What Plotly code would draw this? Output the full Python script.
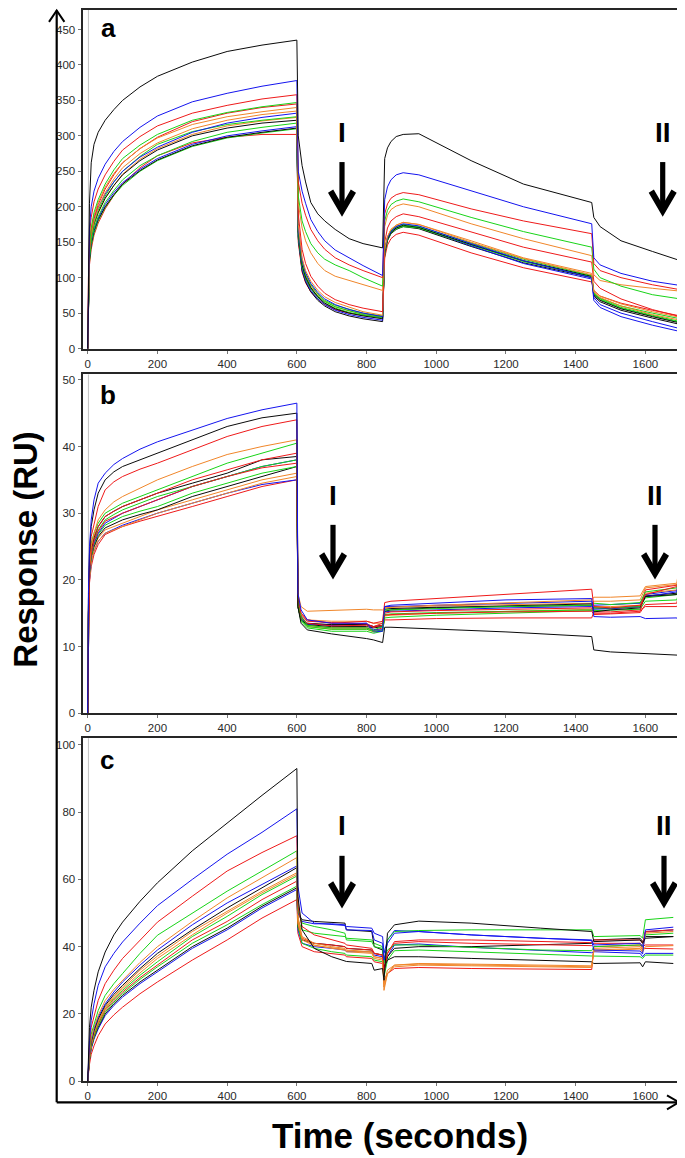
import plotly.graph_objects as go

# reference canvas 685x1158; the page adds an 8px body margin, so the figure is 677x1150
REF_OFF = 8
W, H = 677, 1150

# ---------------- colours ----------------
K = "#0a0a0a"; B = "#1414ee"; R = "#ee1a1a"; G = "#18d418"; O = "#f0862a"

# ---------------- panel a ----------------
ta = [0, 2, 5, 10, 18, 30, 50, 75, 100, 150, 200, 300, 400, 500, 600,
      604, 615, 625, 640, 660, 680, 710, 750, 790, 846,
      852, 860, 870, 885, 905, 950, 1100, 1250, 1446,
      1452, 1470, 1530, 1620, 1700]
a_k1 = [0, 120, 205, 262, 288, 305, 322, 337, 350, 369, 384, 404, 419, 428, 435, 300, 258, 235, 206, 190, 180, 168, 155, 148, 142, 268, 283, 292, 299, 302, 303, 265, 232, 206, 185, 172, 152, 137, 124]
a_b1 = [0, 110, 170, 200, 222, 240, 260, 278, 292, 312, 328, 348, 360, 370, 378, 250, 222, 205, 182, 165, 152, 139, 128, 117, 103, 210, 228, 238, 245, 248, 245, 222, 200, 176, 128, 118, 106, 95, 89]
a_r1 = [0, 105, 160, 185, 207, 225, 245, 264, 280, 299, 314, 332, 343, 352, 358, 235, 205, 188, 168, 152, 140, 128, 118, 110, 100, 190, 204, 212, 217, 220, 217, 197, 180, 162, 120, 110, 100, 90, 83]
a_g1 = [0, 95, 145, 170, 192, 210, 232, 252, 268, 287, 302, 322, 333, 341, 347, 215, 180, 165, 148, 135, 126, 118, 110, 100, 88, 180, 195, 203, 208, 211, 207, 185, 165, 143, 112, 100, 88, 76, 70]
a_o1 = [0, 100, 145, 168, 188, 206, 228, 247, 262, 282, 297, 316, 327, 334, 340, 205, 170, 152, 135, 120, 110, 102, 96, 90, 82, 172, 188, 196, 201, 204, 200, 176, 155, 131, 104, 96, 90, 85, 81]
a_r2 = [0, 100, 140, 165, 185, 203, 225, 245, 262, 282, 298, 320, 332, 340, 345, 190, 140, 120, 102, 88, 78, 69, 62, 57, 52, 150, 170, 180, 186, 190, 186, 165, 143, 122, 95, 85, 70, 55, 45]
a_o2 = [0, 95, 138, 160, 180, 198, 220, 239, 255, 275, 290, 310, 322, 330, 335, 175, 128, 110, 95, 82, 73, 65, 58, 52, 47, 140, 158, 168, 174, 178, 175, 150, 127, 104, 80, 72, 60, 48, 40]
a_b2 = [0, 100, 142, 165, 183, 199, 218, 235, 250, 270, 284, 305, 318, 326, 332, 170, 125, 107, 92, 79, 70, 62, 55, 50, 45, 140, 156, 165, 172, 176, 173, 148, 124, 100, 72, 62, 50, 38, 28]
a_g2 = [0, 88, 130, 155, 177, 195, 215, 235, 250, 271, 288, 306, 316, 322, 327, 168, 122, 105, 90, 77, 68, 61, 55, 50, 46, 138, 156, 166, 172, 175, 172, 149, 126, 103, 78, 70, 58, 47, 38]
a_k2 = [0, 92, 136, 158, 176, 192, 212, 230, 245, 265, 280, 300, 311, 318, 322, 165, 118, 101, 86, 73, 64, 56, 50, 46, 42, 136, 154, 164, 170, 174, 171, 147, 124, 102, 76, 68, 56, 45, 36]
a_g3 = [0, 90, 130, 152, 170, 186, 206, 223, 238, 258, 272, 292, 305, 312, 318, 160, 115, 99, 85, 74, 66, 59, 53, 48, 44, 135, 153, 163, 169, 172, 170, 146, 123, 101, 77, 69, 57, 46, 37]
a_b3 = [0, 85, 128, 150, 168, 184, 203, 220, 234, 253, 268, 288, 300, 307, 313, 158, 112, 96, 82, 70, 62, 54, 48, 44, 40, 138, 156, 166, 172, 175, 171, 145, 120, 98, 68, 58, 45, 33, 24]
a_k3 = [0, 82, 125, 148, 166, 182, 200, 217, 232, 251, 266, 286, 298, 305, 311, 155, 110, 94, 80, 68, 60, 52, 46, 42, 38, 134, 152, 162, 168, 172, 169, 144, 121, 100, 74, 66, 54, 43, 34]
a_g4 = [0, 78, 122, 145, 163, 180, 199, 216, 230, 250, 265, 285, 297, 304, 310, 158, 114, 98, 84, 72, 64, 57, 51, 47, 43, 136, 154, 164, 170, 173, 170, 146, 123, 102, 79, 71, 60, 50, 42]
a_r3 = [0, 75, 118, 140, 160, 177, 197, 216, 232, 255, 272, 290, 298, 302, 302, 150, 108, 93, 80, 70, 62, 55, 50, 47, 44, 128, 146, 155, 161, 164, 160, 135, 114, 94, 82, 74, 64, 54, 46]
a_o3 = [0, 90, 132, 155, 174, 191, 212, 230, 246, 267, 282, 302, 314, 321, 326, 165, 120, 103, 88, 76, 67, 59, 53, 49, 45, 140, 158, 168, 174, 178, 175, 152, 128, 106, 82, 74, 63, 52, 44]

# ---------------- panel b ----------------
tb = [0, 2, 5, 10, 18, 30, 50, 75, 100, 150, 200, 300, 400, 500, 600,
      603, 612, 630, 700, 800, 820, 846, 852, 870, 1000, 1200, 1446, 1452, 1500, 1585, 1600, 1690, 1700]
b_b1 = [0, 18, 25, 29, 32, 34.5, 36, 37.3, 38.2, 39.6, 40.7, 42.5, 44.2, 45.5, 46.5, 18, 15.5, 14, 13.5, 13.5, 12.5, 12.5, 16, 16.2, 16.5, 17, 17.2, 14.5, 14.4, 14.5, 14.2, 14.3, 13.5]
b_k1 = [0, 17, 24, 28, 30.5, 33, 35, 36.2, 37, 38, 39, 41, 43, 44.3, 45, 16, 13.5, 12.5, 11.9, 11.2, 11, 10.6, 12.9, 12.9, 12.6, 12.2, 11.5, 9.5, 9.2, 9, 9, 8.8, 8.7]
b_r1 = [0, 16, 23, 26.5, 28.5, 31, 33.5, 34.7, 35.5, 36.6, 37.5, 39.5, 41.5, 43, 44, 17.5, 15, 14, 13.5, 13.8, 13.5, 13.8, 16.6, 16.8, 17.2, 17.8, 18.6, 16, 15.8, 16.2, 17.8, 19, 21]
b_o1 = [0, 16, 22, 25, 27, 29, 30.5, 31.7, 32.5, 33.8, 35, 37, 38.8, 40, 41, 18, 16, 15.3, 15.4, 15.6, 15.5, 15.5, 15.8, 15.9, 16.2, 16.6, 17, 17.4, 17.4, 17.6, 19, 19.5, 23]
b_g1 = [0, 16, 22.5, 25.5, 27, 28.5, 30, 30.8, 31.5, 32.5, 33.5, 35.5, 37.5, 39, 40.5, 17, 14.5, 13.2, 12.8, 12.8, 12.5, 13, 15.5, 15.5, 15.7, 16, 16.2, 16.5, 16.3, 16.6, 18.2, 18.8, 22]
b_r2 = [0, 15.5, 22, 25, 26.5, 28, 29.5, 30.3, 31, 32, 33, 35, 36.5, 38, 39, 17, 14.8, 13.8, 13.6, 13.4, 13, 13.5, 15, 15.2, 15.4, 15.6, 15.8, 15, 15, 15.3, 18.5, 19.2, 20]
b_k2 = [0, 15.5, 22, 24.5, 26.3, 28, 29.5, 30.3, 31, 32, 33, 34.5, 36, 38, 38.5, 16.5, 14.5, 13.5, 13.3, 13.3, 13, 13.2, 15.3, 15.5, 15.8, 16.1, 16.4, 15.2, 15.5, 15.8, 17.5, 17.8, 19]
b_g2 = [0, 15.5, 22, 24.5, 26, 27.5, 29, 29.8, 30.5, 31.5, 32.5, 34, 35.5, 37, 38, 16.5, 14, 13, 12.6, 12.6, 12.3, 12.5, 14.8, 14.9, 15.1, 15.3, 15.5, 15.8, 15.8, 16, 17.3, 17.8, 20]
b_b2 = [0, 15, 21, 24, 25.5, 27, 28.5, 29.3, 30, 31, 32, 34, 35.5, 37, 38, 16.5, 14.2, 13.4, 13.2, 13.5, 12.2, 12.3, 16, 16, 16.2, 16.5, 16.8, 15.6, 15.7, 16, 17.5, 18.2, 21]
b_g3 = [0, 15, 21, 23.5, 25.3, 26.8, 28.2, 28.9, 29.5, 30.3, 31, 33, 34.5, 36, 37, 16, 13.8, 12.8, 12.3, 12.3, 12, 12.3, 14.3, 14.4, 14.7, 15, 15.3, 15.4, 15.4, 15.6, 16.8, 17, 19]
b_k3 = [0, 15, 21, 23.5, 25, 26.5, 27.8, 28.4, 29, 29.8, 30.5, 32.5, 34, 35.5, 37, 16, 14, 13.3, 13, 13, 12.8, 13, 15.6, 15.7, 15.9, 16, 16.2, 15.8, 15.7, 16, 17.6, 18, 20]
b_o2 = [0, 15, 20.5, 23, 24.8, 26.3, 27.5, 28, 28.5, 29.5, 30.5, 32, 33.5, 35, 36, 16.8, 15, 14, 13.8, 13.8, 13.5, 13.5, 15.8, 15.9, 16.1, 16.3, 16.5, 16.8, 16.8, 17, 18.8, 19.3, 21]
b_o3 = [0, 14.5, 20, 22.5, 24.3, 25.8, 27, 27.5, 28, 29, 30, 31.5, 33, 34.5, 35.5, 16, 14, 13, 12.6, 12.6, 12.2, 12.5, 14.6, 14.7, 15, 15.3, 15.6, 16, 16, 16.2, 18, 18.5, 20]
b_r3 = [0, 14, 19.5, 22, 23.8, 25.3, 26.8, 27.4, 28, 28.8, 29.5, 31, 32.5, 34, 35, 16.5, 14.5, 13.2, 12.8, 12.8, 12.4, 12.8, 14, 14, 14.2, 14.3, 14.3, 15.2, 15.2, 15.5, 16, 16, 17]
b_b3 = [0, 14.5, 20, 22.5, 24.3, 25.8, 27, 27.6, 28.2, 29.1, 30, 31.5, 33, 34.3, 35, 16, 14, 13.4, 13.2, 13.3, 13, 13.1, 15.2, 15.3, 15.5, 15.8, 16, 16.2, 16.3, 16.5, 17.8, 18.4, 22]
b_r4 = [0, 15.5, 21.5, 24, 25.8, 27.3, 28.8, 29.4, 30, 31, 32, 34, 35.5, 36.8, 37.5, 16.5, 14.3, 13.5, 13.1, 13.2, 12.9, 13.2, 14.7, 14.8, 15, 15.2, 15.3, 14.8, 14.9, 15.1, 16.3, 16.5, 19]

# ---------------- panel c ----------------
tc = [0, 2, 5, 10, 18, 30, 50, 75, 100, 150, 200, 300, 400, 500, 600,
      603, 615, 650, 700, 738, 742, 815, 822, 846, 850, 860, 880, 950, 1100, 1300, 1446, 1452, 1585, 1592, 1600, 1680]
c_k1 = [0, 8, 16, 22, 27, 32.5, 38.4, 43.5, 47.3, 53.5, 59, 68.5, 76.8, 85, 93, 55, 45, 39.5, 37, 35.8, 35.6, 35, 33, 33.5, 30, 44, 46.5, 47.6, 47, 45.5, 44.5, 41.5, 42, 41, 42.5, 43]
c_b1 = [0, 6, 12, 18, 23, 28.5, 34, 38, 41.4, 47, 52.2, 60, 67.5, 74, 81, 58, 50, 47, 46.7, 46.3, 45, 44.8, 42, 41, 36, 41, 44, 44.5, 43.5, 42.5, 41.8, 39, 38.7, 37.8, 45, 45.8]
c_r1 = [0, 5, 10, 16, 19.5, 24, 29, 33, 36.5, 42, 47.3, 55, 62.5, 68, 73, 52, 46, 43.5, 42, 41, 40.5, 39.5, 38, 37.5, 33, 38, 41.5, 42, 42, 41.5, 41.2, 42, 42, 41, 44.5, 45]
c_g1 = [0, 4.5, 9, 14, 17, 21, 25.5, 29, 32, 38, 43.4, 50, 56.5, 62.5, 68.5, 51, 47, 46, 45, 44, 42, 41.5, 40, 39.5, 35, 42, 44.5, 44.8, 45, 45, 45, 43, 43.3, 42.5, 48, 48.7]
c_o1 = [0, 4, 8, 12.5, 16, 19.5, 24, 27.3, 30, 35.3, 40, 47.5, 54.5, 60.5, 66.5, 49, 43, 41, 40, 39.5, 39, 38.5, 37, 36.5, 28, 32, 34.5, 34.8, 34.6, 34.3, 34, 39.5, 40, 39, 44, 44.5]
c_b2 = [0, 4, 8, 12, 15.5, 19, 23, 26.5, 29.5, 34.5, 39, 46.5, 53, 58.5, 64, 50, 47.5, 46.8, 46.8, 46.5, 46, 45.5, 44, 43, 38, 42, 44.8, 44.5, 43.5, 42.5, 42, 40.5, 41, 40, 44.5, 45]
c_k2 = [0, 4, 7.5, 11.5, 15, 18.5, 22.5, 25.8, 28.5, 33.5, 38, 45, 51.5, 57.5, 63.5, 50, 48, 47.5, 47.3, 47, 45, 44.5, 40, 39, 34, 36, 37, 37, 36.5, 35.8, 35.5, 35, 35.2, 34, 35.5, 35]
c_o2 = [0, 3.5, 7, 11, 14.5, 18, 22, 25.2, 28, 33, 37.2, 44.5, 50.5, 56.5, 62, 48, 42.5, 40.5, 39.5, 39, 38.5, 38, 36.5, 36, 29, 33, 34.5, 35, 34.8, 34.5, 34.3, 39, 39.5, 38.5, 40, 40.3]
c_g2 = [0, 3.5, 7, 11, 14, 17.5, 21.5, 24.5, 27, 31.5, 35.5, 43, 49, 55.5, 61, 48, 45, 44, 43.5, 43, 42.5, 42, 41, 40, 36, 39, 40.5, 40.5, 39.8, 39, 38.8, 40, 40.5, 40, 43.5, 44]
c_r2 = [0, 3.5, 7, 10.5, 13.5, 17, 21, 24, 26.5, 30.8, 34.5, 42, 47.5, 54, 59.5, 47, 42.5, 41, 40.5, 40, 39.5, 39, 38, 37.5, 33, 38, 41, 41.5, 41, 40.5, 40.3, 41, 41, 40, 40.5, 40.5]
c_g3 = [0, 3.5, 6.5, 10, 13, 16.5, 20.5, 23.5, 26, 30.3, 34, 41, 46.5, 52.5, 58, 46, 41, 39.5, 38.5, 38, 37.5, 37, 36, 35.5, 31, 36, 38.8, 39, 38.5, 37.8, 37.3, 37.2, 37, 36.5, 37.5, 37.5]
c_k3 = [0, 3.5, 6.5, 10, 13, 16, 20, 23, 25.5, 29.5, 33, 40, 45.5, 52, 57.5, 46, 42, 41, 40.5, 40, 39.5, 39, 38, 37.5, 33, 37, 39.5, 40, 40, 40.5, 41, 42, 42.5, 41.5, 43, 43]
c_b3 = [0, 3, 6.5, 9.5, 12.5, 15.5, 19.5, 22.5, 25, 29, 32.5, 39.5, 45, 51.5, 57, 45, 41, 40, 39.5, 39, 38.5, 38.5, 37.5, 37, 32, 37, 40.5, 40.8, 39.8, 38.8, 38.2, 38.5, 38, 37, 38, 38]
c_r3 = [0, 2.5, 5, 8, 10.5, 13.5, 17, 19.7, 22, 26, 29.5, 36, 42, 48.5, 54, 44, 40, 38.5, 38, 37.5, 37, 36.5, 35.5, 35, 30, 32, 33.5, 33.8, 33.5, 33.3, 33.2, 40, 40.5, 39.5, 39.5, 39.3]
c_o3 = [0, 3.5, 7, 11, 14.5, 17.5, 21.5, 24.8, 27.5, 32.2, 36.5, 43.5, 50, 56, 61.5, 47, 42, 40.3, 39.7, 39.2, 38.8, 38.3, 37, 36.5, 27, 32, 34, 34.5, 34.3, 34, 33.8, 38.7, 39.3, 38.3, 44.3, 45]

# ---------------- axis ticks ----------------
x_ticks = [0, 200, 400, 600, 800, 1000, 1200, 1400, 1600]
a_yticks = [0, 50, 100, 150, 200, 250, 300, 350, 400, 450]
b_yticks = [0, 10, 20, 30, 40, 50]
c_yticks = [0, 20, 40, 60, 80, 100]

panels = [
    ("x", "y", ta, [(a_r3, R), (a_o3, O), (a_g4, G), (a_k3, K), (a_b3, B), (a_g3, G), (a_k2, K), (a_g2, G),
                    (a_b2, B), (a_o2, O), (a_r2, R), (a_o1, O), (a_g1, G), (a_r1, R), (a_b1, B), (a_k1, K)]),
    ("x2", "y2", tb, [(b_r3, R), (b_b3, B), (b_o3, O), (b_o2, O), (b_k3, K), (b_g3, G), (b_b2, B), (b_g2, G),
                      (b_k2, K), (b_r2, R), (b_r4, R), (b_g1, G), (b_o1, O), (b_r1, R), (b_k1, K), (b_b1, B)]),
    ("x3", "y3", tc, [(c_r3, R), (c_b3, B), (c_k3, K), (c_g3, G), (c_r2, R), (c_g2, G), (c_o3, O), (c_o2, O),
                      (c_k2, K), (c_b2, B), (c_o1, O), (c_g1, G), (c_r1, R), (c_b1, B), (c_k1, K)]),
]

fig = go.Figure()
for xa, ya, t, series in panels:
    for vals, col in series:
        fig.add_trace(go.Scatter(x=t, y=vals, mode="lines", xaxis=xa, yaxis=ya,
                                 line=dict(color=col, width=1), hoverinfo="skip", showlegend=False))


def px(x):
    return (x - REF_OFF) / W


def py(y):
    return 1 - (y - REF_OFF) / H


xdom = [px(82.5), px(682)]
ydoms = [[py(350), py(9)], [py(716.6), py(375.7)], [py(1086.7), py(741.7)]]
yranges = [[-0.5, 477.5], [0, 50.8], [0, 102]]
yticks = [a_yticks, b_yticks, c_yticks]

tickfont = dict(family="Liberation Sans, Arial, sans-serif", size=11.5, color="#2a2a2a")
axcommon = dict(showline=True, linecolor="#262626", linewidth=2, mirror=True, showgrid=False,
                zeroline=False, ticks="outside", ticklen=3, tickcolor="#777", tickwidth=1,
                tickfont=tickfont)
layout = dict(width=W, height=H, margin=dict(l=0, r=0, t=0, b=0),
              plot_bgcolor="white", paper_bgcolor="white", showlegend=False)
names = [("xaxis", "yaxis", "y", "x"), ("xaxis2", "yaxis2", "y2", "x2"), ("xaxis3", "yaxis3", "y3", "x3")]
for i, (xn, yn, yanc, xanc) in enumerate(names):
    layout[xn] = dict(domain=xdom, range=[-15, 1705], anchor=yanc, tickvals=x_ticks, **axcommon)
    layout[yn] = dict(domain=ydoms[i], range=yranges[i], anchor=xanc, tickvals=yticks[i], **axcommon)
fig.update_layout(**layout)

shapes = []
for i in range(3):
    xr = ["x", "x2", "x3"][i]
    yr = ["y", "y2", "y3"][i]
    shapes.append(dict(type="line", xref=xr, yref=yr + " domain", x0=2, x1=2, y0=0, y1=1,
                       line=dict(color="#c4c4c4", width=1), layer="below"))

# outer axis arrows
shapes.append(dict(type="line", xref="paper", yref="paper", x0=px(56.7), x1=px(56.7), y0=py(9.5), y1=py(1108),
                   line=dict(color="black", width=2.2)))
shapes.append(dict(type="line", xref="paper", yref="paper", x0=px(56.7), x1=px(679), y0=py(1108), y1=py(1108),
                   line=dict(color="black", width=2.2)))
shapes.append(dict(type="path", xref="paper", yref="paper",
                   path=f"M {px(49)},{py(21)} L {px(56.7)},{py(9.5)} L {px(64.4)},{py(21)}",
                   line=dict(color="black", width=2)))
shapes.append(dict(type="path", xref="paper", yref="paper",
                   path=f"M {px(667)},{py(1101)} L {px(679)},{py(1108)} L {px(667)},{py(1115)}",
                   line=dict(color="black", width=2)))


def big_arrow(cx, top, tip):
    s = [dict(type="rect", xref="paper", yref="paper", x0=px(cx - 2.6), x1=px(cx + 2.6),
              y0=py(tip - 10), y1=py(top), fillcolor="black", line=dict(width=0))]
    p = (f"M {px(cx-14)},{py(tip-24)} L {px(cx)},{py(tip)} L {px(cx+14)},{py(tip-24)} "
         f"L {px(cx+8.8)},{py(tip-27.5)} L {px(cx)},{py(tip-12)} L {px(cx-8.8)},{py(tip-27.5)} Z")
    s.append(dict(type="path", xref="paper", yref="paper", path=p, fillcolor="black", line=dict(width=0)))
    return s


arrows = [(342, 162, 217), (662.7, 162, 217), (333, 527, 582), (655, 527, 582), (342, 860, 913), (664, 860, 913)]
for cx, top, tip in arrows:
    shapes += big_arrow(cx, top, tip)
fig.update_layout(shapes=shapes)

ann = []
bold = "Liberation Sans, Arial, sans-serif"
for txt, cx, cy in [("I", 342, 132), ("II", 662.7, 132), ("I", 333, 497), ("II", 655, 497), ("I", 342, 829), ("II", 664, 829)]:
    ann.append(dict(text=f"<b>{txt}</b>", x=px(cx), y=py(cy), xref="paper", yref="paper", showarrow=False,
                    xanchor="center", yanchor="middle", font=dict(family=bold, size=28, color="black")))
for txt, cx, cy in [("a", 108, 27), ("b", 108, 396), ("c", 107, 764)]:
    ann.append(dict(text=f"<b>{txt}</b>", x=px(cx), y=py(cy), xref="paper", yref="paper", showarrow=False,
                    xanchor="center", yanchor="middle", font=dict(family=bold, size=26, color="black")))
ann.append(dict(text="<b>Response (RU)</b>", x=px(26), y=py(552), xref="paper", yref="paper", showarrow=False,
                textangle=-90, xanchor="center", yanchor="middle", font=dict(family=bold, size=33, color="black")))
ann.append(dict(text="<b>Time (seconds)</b>", x=px(400), y=py(1141), xref="paper", yref="paper", showarrow=False,
                xanchor="center", yanchor="middle", font=dict(family=bold, size=35, color="black")))
fig.update_layout(annotations=ann)

fig.write_html("out.html")
